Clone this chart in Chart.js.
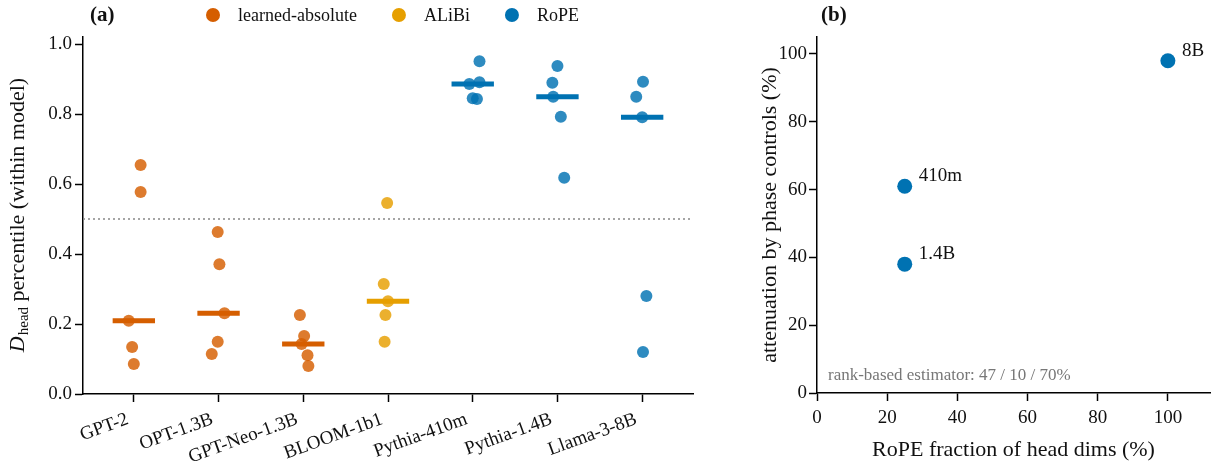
<!DOCTYPE html>
<html>
<head>
<meta charset="utf-8">
<script src="https://cdn.jsdelivr.net/npm/chart.js@4.4.1/dist/chart.umd.min.js"></script>
<style>
  html, body { margin: 0; background: #fff; overflow: hidden; }
  #chartA { position: absolute; left: 0; top: 0; }
  #chartB { position: absolute; left: 740px; top: 0; }
</style>
</head>
<body>
<canvas id="chartA" width="740" height="465"></canvas>
<canvas id="chartB" width="490" height="465"></canvas>
<script>
// ---- panel (a): per-head D_head percentile within each model ----
const models = ["GPT-2", "OPT-1.3B", "GPT-Neo-1.3B", "BLOOM-1b1", "Pythia-410m", "Pythia-1.4B", "Llama-3-8B"];
const modelFamily = ["learned-absolute", "learned-absolute", "learned-absolute", "ALiBi", "RoPE", "RoPE", "RoPE"];
const familyNames = ["learned-absolute", "ALiBi", "RoPE"];

const gpt2 = [0.654, 0.577, 0.209, 0.134, 0.086];
const opt13b = [0.463, 0.371, 0.231, 0.149, 0.114];
const gptNeo13b = [0.226, 0.166, 0.143, 0.111, 0.080];
const bloom1b1 = [0.546, 0.314, 0.265, 0.226, 0.149];
const pythia410m = [0.951, 0.891, 0.886, 0.845, 0.843];
const pythia14b = [0.937, 0.889, 0.849, 0.792, 0.618];
const llama38b = [0.892, 0.849, 0.791, 0.280, 0.120];

// horizontal jitter of each dot (in category units)
const gpt2Jitter = [0.08, 0.08, -0.06, -0.02, 0.0];
const opt13bJitter = [-0.01, 0.01, 0.07, -0.01, -0.08];
const gptNeo13bJitter = [-0.04, 0.01, -0.02, 0.05, 0.06];
const bloom1b1Jitter = [-0.01, -0.05, 0.0, -0.03, -0.04];
const pythia410mJitter = [0.08, 0.08, -0.04, 0.0, 0.05];
const pythia14bJitter = [0.0, -0.06, -0.05, 0.04, 0.08];
const llama38bJitter = [0.01, -0.07, 0.0, 0.05, 0.01];

const chanceLevel = 0.5;

// ---- panel (b): attenuation vs RoPE fraction ----
const ropeLabels = ["410m", "1.4B", "8B"];
const ropeFraction = [25, 25, 100];
const attenuation = [61, 38, 98];
const estimatorNote = "rank-based estimator: 47 / 10 / 70%";

const familyColors = {
  "learned-absolute": [213, 94, 0],
  "ALiBi": [230, 159, 0],
  "RoPE": [0, 114, 178]
};
const rgba = (c, a) => `rgba(${c[0]}, ${c[1]}, ${c[2]}, ${a})`;

const SERIF = '"Liberation Serif", "Times New Roman", serif';
const tickFont = { family: SERIF, size: 19 };
const INK = "#111";

const perModel = [gpt2, opt13b, gptNeo13b, bloom1b1, pythia410m, pythia14b, llama38b];
const perModelJitter = [gpt2Jitter, opt13bJitter, gptNeo13bJitter, bloom1b1Jitter, pythia410mJitter, pythia14bJitter, llama38bJitter];

function median(arr) {
  const s = [...arr].sort((a, b) => a - b);
  const m = Math.floor(s.length / 2);
  return s.length % 2 ? s[m] : (s[m - 1] + s[m]) / 2;
}

const X_MIN = -0.6, X_MAX = 6.6;
const MEDIAN_HALF = 0.25;

const pointSets = [];
const medianSets = [];
familyNames.forEach(fam => {
  const pts = [];
  const med = [];
  models.forEach((m, i) => {
    if (modelFamily[i] !== fam) return;
    perModel[i].forEach((v, j) => pts.push({ x: i + perModelJitter[i][j], y: v }));
    const md = median(perModel[i]);
    med.push({ x: i - MEDIAN_HALF, y: md }, { x: i + MEDIAN_HALF, y: md }, { x: i + MEDIAN_HALF, y: null });
  });
  pointSets.push({
    label: fam,
    data: pts,
    pointRadius: 6,
    pointHoverRadius: 6,
    borderWidth: 0,
    backgroundColor: rgba(familyColors[fam], 0.82),
    order: 1
  });
  medianSets.push({
    label: fam + " median",
    data: med,
    showLine: true,
    spanGaps: false,
    pointRadius: 0,
    borderWidth: 5,
    borderColor: rgba(familyColors[fam], 1),
    borderCapStyle: "butt",
    order: 2
  });
});

const refLine = {
  label: "chance",
  data: [{ x: X_MIN, y: chanceLevel }, { x: X_MAX, y: chanceLevel }],
  showLine: true,
  pointRadius: 0,
  borderWidth: 1.5,
  borderColor: "#888",
  borderDash: [2, 3],
  order: 3
};

// legend, panel letter and the D_head axis title for panel (a)
const panelA = {
  id: "panelA",
  afterDraw(chart) {
    const ctx = chart.ctx;
    ctx.save();
    ctx.fillStyle = INK;
    ctx.font = `bold 21px ${SERIF}`;
    ctx.textBaseline = "middle";
    ctx.textAlign = "left";
    ctx.fillText("(a)", 90, 16);

    // legend
    ctx.font = `18px ${SERIF}`;
    let x = 206;
    familyNames.forEach(fam => {
      ctx.fillStyle = rgba(familyColors[fam], 1);
      ctx.beginPath();
      ctx.arc(x + 7, 15, 7, 0, Math.PI * 2);
      ctx.fill();
      ctx.fillStyle = INK;
      ctx.fillText(fam, x + 32, 16);
      x += 32 + ctx.measureText(fam).width + 35;
    });

    // y title with subscript
    const a = chart.chartArea;
    ctx.translate(16, (a.top + a.bottom) / 2);
    ctx.rotate(-Math.PI / 2);
    ctx.textBaseline = "alphabetic";
    const rest = " percentile (within model)";
    ctx.font = `italic 22px ${SERIF}`;
    const wD = ctx.measureText("D").width;
    ctx.font = `15px ${SERIF}`;
    const wS = ctx.measureText("head").width;
    ctx.font = `22px ${SERIF}`;
    const wR = ctx.measureText(rest).width;
    let tx = -(wD + wS + wR) / 2;
    ctx.font = `italic 22px ${SERIF}`;
    ctx.fillText("D", tx, 8);
    tx += wD + 1;
    ctx.font = `15px ${SERIF}`;
    ctx.fillText("head", tx, 12);
    tx += wS;
    ctx.font = `22px ${SERIF}`;
    ctx.fillText(rest, tx, 8);
    ctx.restore();
  }
};

const axisCommon = {
  grid: { drawOnChartArea: false, drawTicks: true, tickLength: 8, tickWidth: 1.5, tickColor: "#000" },
  border: { display: true, color: "#000", width: 1.5 }
};

// keep the plot box where the scale sizes put it
const noScalePadding = s => { s.paddingLeft = 0; s.paddingRight = 0; s.paddingTop = 0; s.paddingBottom = 0; };

new Chart(document.getElementById("chartA").getContext("2d"), {
  type: "scatter",
  data: { datasets: [...pointSets, ...medianSets, refLine] },
  options: {
    responsive: false,
    animation: false,
    layout: { padding: { top: 37, right: 47, left: 0, bottom: 0 } },
    plugins: { legend: { display: false }, tooltip: { enabled: false } },
    scales: {
      x: {
        type: "linear",
        min: X_MIN,
        max: X_MAX,
        afterBuildTicks: s => { s.ticks = models.map((m, i) => ({ value: i })); },
        afterFit: s => { s.height = 71; noScalePadding(s); },
        ticks: {
          callback: v => models[v],
          minRotation: 20,
          maxRotation: 20,
          autoSkip: false,
          padding: 6,
          labelOffset: -6,
          font: tickFont,
          color: INK
        },
        ...axisCommon
      },
      y: {
        min: 0,
        max: 1.02,
        afterFit: s => { s.width = 83; noScalePadding(s); },
        ticks: {
          stepSize: 0.2,
          includeBounds: false,
          padding: 3,
          callback: v => v.toFixed(1),
          font: tickFont,
          color: INK
        },
        ...axisCommon
      }
    }
  },
  plugins: [panelA]
});

// point labels, panel letter and the note for panel (b)
const panelB = {
  id: "panelB",
  afterDraw(chart) {
    const ctx = chart.ctx;
    const xs = chart.scales.x, ys = chart.scales.y;
    ctx.save();
    ctx.fillStyle = INK;
    ctx.font = `bold 21px ${SERIF}`;
    ctx.textBaseline = "middle";
    ctx.textAlign = "left";
    ctx.fillText("(b)", 81, 16);

    ctx.font = `19px ${SERIF}`;
    ropeLabels.forEach((lab, i) => {
      ctx.fillText(lab, xs.getPixelForValue(ropeFraction[i]) + 14, ys.getPixelForValue(attenuation[i]) - 10);
    });

    ctx.font = `17px ${SERIF}`;
    ctx.fillStyle = "#777";
    ctx.fillText(estimatorNote, chart.chartArea.left + 11, chart.chartArea.bottom - 17);
    ctx.restore();
  }
};

new Chart(document.getElementById("chartB").getContext("2d"), {
  type: "scatter",
  data: {
    datasets: [{
      label: "RoPE models",
      data: ropeFraction.map((x, i) => ({ x: x, y: attenuation[i] })),
      pointRadius: 7.5,
      pointHoverRadius: 7.5,
      borderWidth: 0,
      backgroundColor: rgba(familyColors.RoPE, 1)
    }]
  },
  options: {
    responsive: false,
    animation: false,
    layout: { padding: { top: 37, right: 20, left: 0, bottom: 0 } },
    plugins: { legend: { display: false }, tooltip: { enabled: false } },
    scales: {
      x: {
        type: "linear",
        min: 0,
        max: 112,
        afterFit: s => { s.height = 72; noScalePadding(s); },
        ticks: { stepSize: 20, includeBounds: false, padding: 6, font: tickFont, color: INK },
        title: {
          display: true,
          text: "RoPE fraction of head dims (%)",
          font: { family: SERIF, size: 22 },
          color: INK,
          padding: { top: 0, bottom: 2 }
        },
        ...axisCommon
      },
      y: {
        min: 0,
        max: 105,
        afterFit: s => { s.width = 77; noScalePadding(s); },
        ticks: { stepSize: 20, includeBounds: false, padding: 2, font: tickFont, color: INK },
        title: {
          display: true,
          text: "attenuation by phase controls (%)",
          font: { family: SERIF, size: 22 },
          color: INK,
          padding: { top: 17, bottom: 0 }
        },
        ...axisCommon
      }
    }
  },
  plugins: [panelB]
});
</script>
</body>
</html>
